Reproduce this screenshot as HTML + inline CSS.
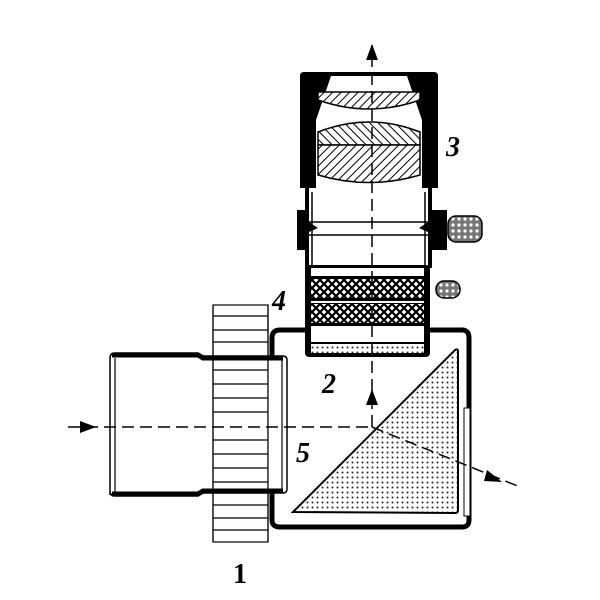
<!DOCTYPE html>
<html><head><style>html,body{margin:0;padding:0;background:#fff}svg{display:block}</style></head><body>
<svg width="600" height="600" viewBox="0 0 600 600" xmlns="http://www.w3.org/2000/svg">
<defs>
<pattern id="h1" width="6" height="6" patternUnits="userSpaceOnUse" patternTransform="rotate(45)"><rect width="6" height="6" fill="#fff"/><line x1="0" y1="0" x2="0" y2="6" stroke="#000" stroke-width="2"/></pattern>
<pattern id="h2" width="6" height="6" patternUnits="userSpaceOnUse" patternTransform="rotate(-45)"><rect width="6" height="6" fill="#fff"/><line x1="0" y1="0" x2="0" y2="6" stroke="#000" stroke-width="2"/></pattern>
<pattern id="dots" width="5" height="5" patternUnits="userSpaceOnUse"><rect width="5" height="5" fill="#fff"/><circle cx="2.5" cy="2.5" r="1" fill="#222"/></pattern>
<pattern id="dk" width="6" height="6" patternUnits="userSpaceOnUse"><rect width="6" height="6" fill="#777"/><circle cx="3" cy="3" r="1.6" fill="#fff"/></pattern>
<pattern id="xx" width="8" height="8" patternUnits="userSpaceOnUse"><rect width="8" height="8" fill="#fff"/><path d="M0 0L8 8M8 0L0 8" stroke="#000" stroke-width="2.2"/></pattern>
</defs>
<!-- Eyepiece body -->
<path d="M300 76 Q300 72 304 72 L434 72 Q438 72 438 76 L438 188 L422 188 L422 120 L407 76 L331 76 L316 120 L316 188 L300 188 Z" fill="#000"/>
<path d="M318 92 L420 92 L420 100 Q369 118 318 100 Z" fill="url(#h1)" stroke="#000" stroke-width="1.5"/>
<path d="M318 132 Q369 112 420 132 L420 145 L318 145 Z" fill="url(#h2)" stroke="#000" stroke-width="1.5"/>
<path d="M318 145 L420 145 L420 175 Q369 190 318 175 Z" fill="url(#h1)" stroke="#000" stroke-width="1.5"/>
<!-- lower tube -->
<rect x="305" y="188" width="4" height="80" fill="#000"/>
<rect x="428" y="188" width="4" height="80" fill="#000"/>
<line x1="312" y1="192" x2="312" y2="265" stroke="#000" stroke-width="1.5"/>
<line x1="425" y1="192" x2="425" y2="265" stroke="#000" stroke-width="1.5"/>
<line x1="309" y1="222" x2="428" y2="222" stroke="#000" stroke-width="1.5"/>
<line x1="309" y1="235" x2="428" y2="235" stroke="#000" stroke-width="1.5"/>
<path d="M309 222 L318 228 L309 232Z M428 222 L419 228 L428 232Z" fill="#000"/>
<rect x="297" y="210" width="8" height="40" fill="#000"/>
<rect x="432" y="210" width="15" height="40" fill="#000"/>
<rect x="448" y="216" width="34" height="26" rx="8" fill="url(#dk)" stroke="#000" stroke-width="1.5"/>
<!-- rings -->
<rect x="305" y="265" width="125" height="92" rx="4" fill="#000"/>
<rect x="311" y="268" width="113" height="8" fill="#fff"/>
<rect x="311" y="279" width="113" height="19" fill="url(#xx)"/>
<rect x="311" y="301" width="113" height="2" fill="#fff"/>
<rect x="311" y="304" width="113" height="19" fill="url(#xx)"/>
<rect x="311" y="326" width="113" height="16" fill="#fff"/>
<rect x="311" y="344" width="113" height="9" fill="url(#dots)"/>
<rect x="436" y="281" width="24" height="17" rx="8" fill="url(#dk)" stroke="#000" stroke-width="1.5"/>
<!-- box -->
<path d="M305 330 L280 330 Q272 330 272 338 L272 520 Q272 527 280 527 L462 527 Q469 527 469 520 L469 338 Q469 330 462 330 L430 330" fill="none" stroke="#000" stroke-width="5"/>
<rect x="464" y="408" width="6" height="108" fill="#fff" stroke="#000" stroke-width="1"/>
<!-- prism -->
<path d="M293 512 L455 350 Q458 348 458 352 L458 510 Q458 513 455 513 Z" fill="url(#dots)" stroke="#000" stroke-width="2"/>
<!-- ring 1 background -->
<rect x="213" y="305" width="55" height="237" fill="#fff" stroke="#000" stroke-width="1.2"/>
<rect x="268" y="358" width="10" height="134" fill="#fff"/>
<!-- left barrel -->
<path d="M110 495 L110 358 Q110 353 115 353 L198 353 L203 356 L283 356 Q287 356 287 360 L287 489 Q287 493 283 493 L203 493 L198 496 L115 496 Q110 496 110 491" fill="none" stroke="#000" stroke-width="1.5"/>
<path d="M112 355 L198 355 L203 358 L283 358" fill="none" stroke="#000" stroke-width="5"/>
<path d="M112 494 L198 494 L203 491 L283 491" fill="none" stroke="#000" stroke-width="5"/>
<line x1="115" y1="358" x2="115" y2="492" stroke="#000" stroke-width="1.2"/>
<line x1="282" y1="360" x2="282" y2="490" stroke="#000" stroke-width="1.2"/>
<!-- ring lines -->
<g stroke="#000" stroke-width="1.2">
<line x1="213" y1="305" x2="213" y2="542"/><line x1="268" y1="305" x2="268" y2="542"/>
<line x1="213" y1="316" x2="268" y2="316"/><line x1="213" y1="330" x2="268" y2="330"/><line x1="213" y1="342" x2="268" y2="342"/>
<line x1="213" y1="370" x2="268" y2="370"/><line x1="213" y1="384" x2="268" y2="384"/><line x1="213" y1="398" x2="268" y2="398"/><line x1="213" y1="412" x2="268" y2="412"/><line x1="213" y1="440" x2="268" y2="440"/><line x1="213" y1="454" x2="268" y2="454"/><line x1="213" y1="468" x2="268" y2="468"/><line x1="213" y1="482" x2="268" y2="482"/>
<line x1="213" y1="505" x2="268" y2="505"/><line x1="213" y1="518" x2="268" y2="518"/><line x1="213" y1="530" x2="268" y2="530"/>
</g>
<!-- optical axes -->
<g stroke="#000" stroke-width="1.5" stroke-dasharray="12 6" fill="none">
<line x1="68" y1="427" x2="372" y2="427"/>
<line x1="372" y1="427" x2="372" y2="45"/>
<line x1="372" y1="427" x2="520" y2="487"/>
</g>
<path d="M80 421 L96 427 L80 433Z" fill="#000"/>
<path d="M366 405 L372 389 L378 405Z" fill="#000"/>
<path d="M366 60 L372 44 L378 60Z" fill="#000"/>
<path d="M487 470 L502 482 L484 481Z" fill="#000"/>
<!-- labels -->
<g font-family="Liberation Serif, serif" font-size="28" font-weight="bold" font-style="italic" fill="#000">
<text x="446" y="156">3</text>
<text x="272" y="310">4</text>
<text x="322" y="393">2</text>
<text x="296" y="462">5</text>
<text x="233" y="583" font-style="normal">1</text>
</g>
</svg>
</body></html>
